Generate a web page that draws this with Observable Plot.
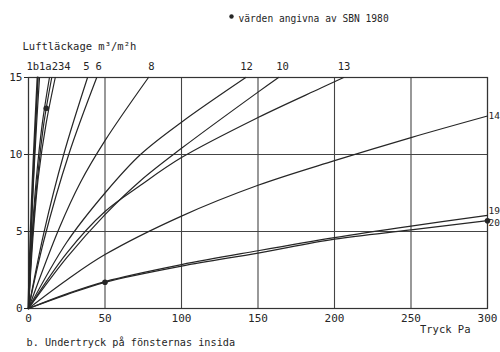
<!DOCTYPE html>
<html><head><meta charset="utf-8">
<script src="https://cdn.jsdelivr.net/npm/d3@7"></script>
<script src="https://cdn.jsdelivr.net/npm/@observablehq/plot@0.6"></script>
<style>body{margin:0;background:#fff}</style>
</head><body><div id="chart"></div>
<script>
const xTicks = [0, 50, 100, 150, 200, 250, 300];
const yTicks = [0, 5, 10, 15];
const seriesNames = ["1b","1a","2","3","4","5","6","8","12","10","13","14","19","20"];
const c1b = [[0,0],[1.5,5],[2.8,8.3],[4.5,12],[6.0,15]];
const c1a = [[0,0],[1.8,5],[3.3,8.3],[5.3,12],[7.2,15]];
const c2  = [[0,0],[2.5,5],[5.0,8.3],[9.0,12],[13.7,15]];
const c3  = [[0,0],[2.8,5],[5.7,8.3],[10.0,12],[15.2,15]];
const c4  = [[0,0],[3.2,5],[6.5,8.6],[11.5,12],[17.5,15]];
const c5  = [[0,0],[10,4.9],[23,10],[38.6,15]];
const c6  = [[0,0],[10,4.4],[26.3,10],[44.6,15]];
const c8  = [[0,0],[20,5.2],[34,8.2],[50,10.9],[78.4,15]];
const c12 = [[0,0],[25,4.3],[50,7.5],[73.2,10],[100,12.1],[142,15]];
const c10 = [[0,0],[25,3.3],[50,6.1],[73.2,8.3],[100,10.4],[150,14.05],[163.4,15]];
const c13 = [[0,0],[25,3.6],[50,6.3],[73.2,8.0],[100,9.8],[150,12.4],[190.8,14.3],[206,15]];
const c14 = [[0,0],[25,1.85],[50,3.5],[100,6.0],[150,8.0],[200,9.6],[250,11.1],[300,12.5]];
const c19 = [[0,0],[25,0.95],[50,1.75],[100,2.85],[150,3.75],[200,4.6],[250,5.35],[300,6.05]];
const c20 = [[0,0],[25,0.9],[50,1.7],[100,2.75],[150,3.6],[200,4.5],[250,5.1],[300,5.7]];
const curves = [c1b,c1a,c2,c3,c4,c5,c6,c8,c12,c10,c13,c14,c19,c20];

// SBN 1980 values (dots)
const dotX = [50, 300, 11.6];
const dotY = [1.7, 5.7, 13.0];

// curve labels
const topLabels = ["1b","1a","2","3","4","5","6","8","12","10","13"];
const topLabelX = [2.8, 11.0, 17.2, 21.3, 25.5, 37.9, 45.8, 80.4, 142.5, 166, 206.2];
const rightLabels = ["14","19","20"];
const rightLabelY = [12.5, 6.35, 5.55];

const legendText = "värden angivna av SBN 1980";
const yTitle = "Luftläckage m³/m²h";
const xTitle = "Tryck Pa";
const caption = "b. Undertryck på fönsternas insida";

const data = seriesNames.flatMap((name, i) => curves[i].map(([x, y]) => ({name, x, y})));
const dots = dotX.map((x, i) => ({x, y: dotY[i]}));
const tops = topLabels.map((t, i) => ({t, x: topLabelX[i], y: 15}));
const rights = rightLabels.map((t, i) => ({t, x: 300, y: rightLabelY[i]}));

const font = "DejaVu Sans Mono, monospace";
const ink = "#262626";

const chart = Plot.plot({
  width: 500, height: 352,
  marginLeft: 28, marginRight: 13, marginTop: 77, marginBottom: 44,
  style: {fontFamily: font, fontSize: "11px", color: ink, background: "#fff"},
  x: {domain: [0, 300], ticks: xTicks, tickSize: 0, tickPadding: 6, label: null},
  y: {domain: [0, 15], ticks: yTicks, tickSize: 4, tickPadding: 2, label: null},
  marks: [
    Plot.ruleX(xTicks, {stroke: "#444", strokeWidth: 1.1}),
    Plot.ruleY(yTicks, {stroke: "#444", strokeWidth: 1.1}),
    Plot.frame({stroke: "#333", strokeWidth: 1.2}),
    Plot.line(data, {x: "x", y: "y", z: "name", curve: "catmull-rom", stroke: ink,
      strokeWidth: d => d.name === "1b" ? 2.2 : 1.2}),
    Plot.dot(dots, {x: "x", y: "y", r: 2.8, fill: ink}),
    Plot.text(tops, {x: "x", y: "y", text: "t", dy: -11, fontSize: 10.5, fill: ink}),
    Plot.text(rights, {x: "x", y: "y", text: "t", dx: 1, textAnchor: "start", fontSize: 9.5, fill: ink}),
    Plot.dot([0], {frameAnchor: "top-left", dx: 203, dy: -61, r: 2.2, fill: ink}),
    Plot.text([legendText], {frameAnchor: "top-left", dx: 210, dy: -62, textAnchor: "start", fontSize: 9.6, fill: ink}),
    Plot.text([yTitle], {frameAnchor: "top-left", dx: -6, dy: -35, textAnchor: "start", fontSize: 10.5, fill: ink}),
    Plot.text([xTitle], {frameAnchor: "bottom-right", dx: -17, dy: 24, textAnchor: "end", fontSize: 10.5, fill: ink}),
    Plot.text([caption], {frameAnchor: "bottom-left", dx: -2, dy: 37, textAnchor: "start", fontSize: 10.2, fill: ink})
  ]
});
document.getElementById("chart").appendChild(chart);
</script></body></html>
